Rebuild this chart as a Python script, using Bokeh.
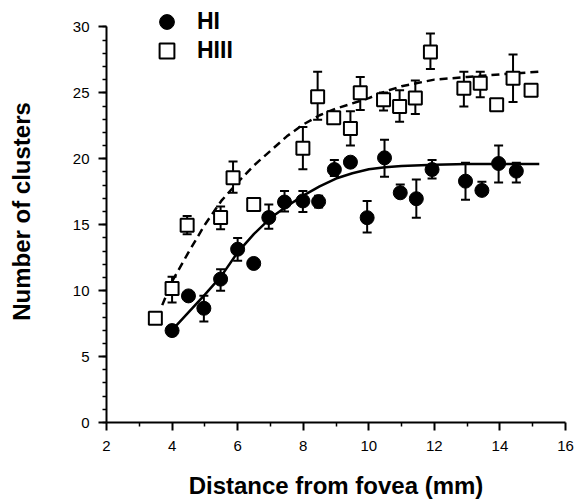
from bokeh.plotting import figure
from bokeh.models import FixedTicker, Legend, LegendItem, ColumnDataSource
from bokeh.embed import file_html
from bokeh.resources import INLINE

# ---- data ----
hi_x = [4.0, 4.5, 4.97, 5.48, 6.0, 6.49, 6.95, 7.43, 7.99, 8.47, 8.95, 9.44, 9.95,
        10.48, 10.96, 11.45, 11.93, 12.95, 13.45, 13.96, 14.5]
hi_y = [6.97, 9.6, 8.66, 10.87, 13.14, 12.06, 15.54, 16.72, 16.8, 16.75, 19.18, 19.74,
        15.53, 20.07, 17.42, 16.97, 19.18, 18.3, 17.6, 19.64, 19.06]
hi_up = [0, 0, 0.95, 0.76, 0.86, 0, 1.0, 0.83, 0.75, 0.45, 0.72, 0, 1.27, 1.38, 0.63,
         1.46, 0.72, 1.4, 0.65, 1.36, 0.64]
hi_dn = [0, 0, 1.01, 0.87, 0.88, 0, 0.84, 0.72, 0.84, 0.45, 0.48, 0, 1.13, 1.44, 0.3,
         1.44, 0.68, 1.4, 0.3, 1.44, 0.86]

hiii_x = [3.49, 4.0, 4.46, 5.48, 5.86, 6.49, 7.99, 8.44, 8.93, 9.44, 9.74, 10.45,
          10.94, 11.42, 11.88, 12.9, 13.4, 13.9, 14.4, 14.95]
hiii_y = [7.9, 10.17, 14.95, 15.54, 18.56, 16.54, 20.8, 24.7, 23.1, 22.3, 25.0, 24.47,
          23.97, 24.6, 28.1, 25.35, 25.73, 24.1, 26.1, 25.2]
hiii_up = [0, 0.88, 0.71, 0.83, 1.24, 0, 1.6, 1.9, 0, 1.3, 1.2, 0.55, 1.23, 1.33, 1.4,
           1.25, 0.87, 0, 1.8, 0]
hiii_dn = [0, 1.07, 0.68, 0.89, 1.14, 0, 1.6, 1.74, 0, 1.3, 1.3, 0.81, 1.17, 1.2, 1.3,
           1.38, 1.06, 0, 1.8, 0]

hi_fit_x = [4.0, 4.5, 5.0, 5.5, 6.0, 6.5, 7.0, 7.5, 8.0, 8.5, 9.0, 9.5, 10.0, 10.5,
            11.0, 12.0, 13.0, 14.0, 15.2]
hi_fit_y = [7.0, 8.35, 9.7, 11.1, 12.9, 14.3, 15.5, 16.4, 17.2, 17.9, 18.5, 18.9, 19.2,
            19.35, 19.45, 19.55, 19.6, 19.6, 19.6]
hiii_fit_x = [3.7, 4.0, 4.5, 5.0, 5.5, 6.0, 6.5, 7.0, 7.5, 8.0, 8.5, 9.0, 9.5, 10.0,
              10.5, 11.0, 12.0, 13.0, 14.0, 15.2]
hiii_fit_y = [8.9, 10.7, 12.9, 15.0, 16.8, 18.2, 19.5, 20.6, 21.7, 22.6, 23.3, 23.8,
              24.2, 24.6, 25.1, 25.5, 26.0, 26.2, 26.4, 26.6]

x_ticks = [2, 4, 6, 8, 10, 12, 14, 16]
x_minor = [3, 5, 7, 9, 11, 13, 15]
y_ticks = [0, 5, 10, 15, 20, 25, 30]
y_minor = list(range(0, 31))

series_labels = ["HI", "HIII"]

FONT = "Liberation Sans"

# y range reaches a little past 30 so that the legend (above the 30 tick) sits
# inside the frame; the axis line itself is bounded to 0..30.
p = figure(width=576, height=501, x_range=(2, 16), y_range=(0, 32.0),
           output_backend="svg", toolbar_location=None,
           min_border_left=106, min_border_right=11, min_border_top=0,
           min_border_bottom=77)
p.outline_line_color = None
p.grid.visible = False
p.background_fill_color = "white"

for ax in (p.xaxis[0], p.yaxis[0]):
    ax.axis_line_width = 2
    ax.axis_line_color = "black"
    ax.major_tick_line_width = 2
    ax.major_tick_line_color = "black"
    ax.minor_tick_line_width = 1.5
    ax.minor_tick_line_color = "black"
    ax.major_tick_in = 0
    ax.major_tick_out = 8
    ax.minor_tick_in = 0
    ax.minor_tick_out = 4
    ax.major_label_text_font = FONT
    ax.major_label_text_font_size = "15px"
    ax.major_label_text_color = "black"
    ax.axis_label_text_font = FONT
    ax.axis_label_text_font_style = "bold"
    ax.axis_label_text_font_size = "24px"
    ax.axis_label_text_color = "black"

p.yaxis.bounds = (0, 30)
p.xaxis.ticker = FixedTicker(ticks=x_ticks, minor_ticks=x_minor)
p.yaxis.ticker = FixedTicker(ticks=y_ticks, minor_ticks=y_minor)
p.xaxis.axis_label = "Distance from fovea (mm)"
p.yaxis.axis_label = "Number of clusters"
p.xaxis.major_label_standoff = 10
p.yaxis.major_label_standoff = 9
p.xaxis.axis_label_standoff = 18
p.yaxis.axis_label_standoff = 35

# fitted curves
p.line(hiii_fit_x, hiii_fit_y, line_color="black", line_width=2.5, line_dash="8 5")
p.line(hi_fit_x, hi_fit_y, line_color="black", line_width=2.5)


def err_source(xs, ys, up, dn):
    d = dict(x=[], lo=[], hi=[])
    for x, y, u, l in zip(xs, ys, up, dn):
        if u > 0 or l > 0:
            d["x"].append(x)
            d["lo"].append(y - l)
            d["hi"].append(y + u)
    return ColumnDataSource(d)


for xs, ys, up, dn in ((hi_x, hi_y, hi_up, hi_dn), (hiii_x, hiii_y, hiii_up, hiii_dn)):
    src = err_source(xs, ys, up, dn)
    p.segment(x0="x", y0="lo", x1="x", y1="hi", source=src, line_color="black", line_width=2)
    p.scatter(x="x", y="lo", source=src, marker="dash", size=9, line_color="black", line_width=2)
    p.scatter(x="x", y="hi", source=src, marker="dash", size=9, line_color="black", line_width=2)

r_hiii = p.scatter(hiii_x, hiii_y, marker="square", size=13, fill_color="white",
                   line_color="black", line_width=2)
r_hi = p.scatter(hi_x, hi_y, marker="circle", size=14, fill_color="black",
                 line_color="black", line_width=1)


def make_legend(label, renderer, loc):
    return Legend(items=[LegendItem(label=label, renderers=[renderer])],
                  location=loc, glyph_width=37, glyph_height=37, spacing=0,
                  label_standoff=12, padding=0, margin=0, border_line_color=None,
                  background_fill_alpha=0, label_text_font=FONT,
                  label_text_font_style="bold", label_text_font_size="23px",
                  label_text_color="black")


p.add_layout(make_legend(series_labels[0], r_hi, (42, 382)))
p.add_layout(make_legend(series_labels[1], r_hiii, (42, 353)))

open("out.html", "w").write(file_html(p, INLINE))
